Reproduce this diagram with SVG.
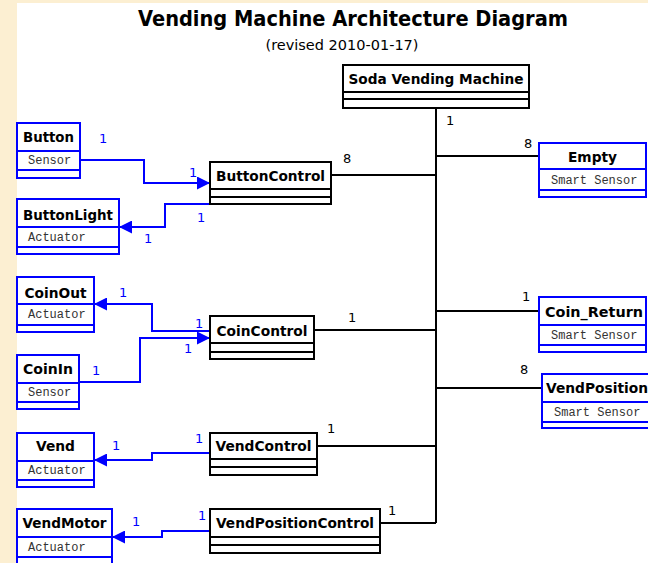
<svg xmlns="http://www.w3.org/2000/svg" width="648" height="563" viewBox="0 0 648 563">
<defs>
<style>
.bg{fill:#fcefd2}
.box{fill:#fff;stroke:#000;stroke-width:2}
.sep{stroke:#000;stroke-width:2}
.bbox{fill:#fff;stroke:#0000ff;stroke-width:2}
.bsep{stroke:#0000ff;stroke-width:2}
.name{font-family:"DejaVu Sans",sans-serif;font-weight:bold;font-size:14px;fill:#000;text-anchor:middle}
.attr{font-family:"Liberation Mono","DejaVu Sans Mono",monospace;font-size:12px;fill:#333}
.conn{fill:none;stroke:#000;stroke-width:2}
.bconn{fill:none;stroke:#0000ff;stroke-width:2}
.m{font-family:"DejaVu Sans",sans-serif;font-size:13px;fill:#000}
.bm{font-family:"DejaVu Sans",sans-serif;font-size:13px;fill:#0000ff}
</style>
<marker id="arr" markerUnits="userSpaceOnUse" markerWidth="13" markerHeight="13" viewBox="0 0 12 12" refX="12" refY="6" orient="auto">
<path d="M0,0 L12,6 L0,12 z" fill="#0000ff"/>
</marker>
</defs>
<rect class="bg" x="0" y="0" width="648" height="563"/>
<rect x="17" y="3" width="631" height="560" fill="#fff"/>
<text x="353" y="26" font-family="DejaVu Sans,sans-serif" font-weight="bold" font-size="21" text-anchor="middle" textLength="430" lengthAdjust="spacingAndGlyphs">Vending Machine Architecture Diagram</text>
<text x="342" y="50" font-family="DejaVu Sans,sans-serif" font-size="14" text-anchor="middle" textLength="153" lengthAdjust="spacingAndGlyphs">(revised 2010-01-17)</text>

<g id="connectors">
<path class="conn" d="M436 108 V523"/>
<path class="conn" d="M436 156 H539"/>
<path class="conn" d="M331 175 H436"/>
<path class="conn" d="M436 311 H539"/>
<path class="conn" d="M314 330 H436"/>
<path class="conn" d="M436 388 H542"/>
<path class="conn" d="M317 446 H436"/>
<path class="conn" d="M380 523 H436"/>
<path class="bconn" d="M80 160 H144 V183 H210" marker-end="url(#arr)"/>
<path class="bconn" d="M210 204 H165 V227 H119" marker-end="url(#arr)"/>
<path class="bconn" d="M210 331 H152 V304 H94" marker-end="url(#arr)"/>
<path class="bconn" d="M79 382 H140 V338 H210" marker-end="url(#arr)"/>
<path class="bconn" d="M210 453 H152 V460 H94" marker-end="url(#arr)"/>
<path class="bconn" d="M210 531 H162 V537 H112" marker-end="url(#arr)"/>
<text class="m" x="446" y="125">1</text>
<text class="m" x="524" y="148">8</text>
<text class="m" x="343" y="163">8</text>
<text class="m" x="522" y="301">1</text>
<text class="m" x="348" y="322">1</text>
<text class="m" x="520" y="374">8</text>
<text class="m" x="327" y="433">1</text>
<text class="m" x="388" y="515">1</text>
<text class="bm" x="99" y="143">1</text>
<text class="bm" x="189" y="177">1</text>
<text class="bm" x="197" y="222">1</text>
<text class="bm" x="144" y="243">1</text>
<text class="bm" x="119" y="297">1</text>
<text class="bm" x="195" y="328">1</text>
<text class="bm" x="184" y="353">1</text>
<text class="bm" x="92" y="375">1</text>
<text class="bm" x="112" y="450">1</text>
<text class="bm" x="195" y="443">1</text>
<text class="bm" x="132" y="526">1</text>
<text class="bm" x="198" y="520">1</text>
</g>

<g id="soda-vending-machine">
<rect class="box" x="343" y="65" width="186" height="43"/>
<path class="sep" d="M343 92 H529 M343 99 H529"/>
<text class="name" x="436" y="84" textLength="175" lengthAdjust="spacingAndGlyphs">Soda Vending Machine</text>
</g>
<g id="button-control">
<rect class="box" x="210" y="162" width="121" height="42"/>
<path class="sep" d="M210 189 H331 M210 197 H331"/>
<text class="name" x="270.5" y="181" textLength="109" lengthAdjust="spacingAndGlyphs">ButtonControl</text>
</g>
<g id="coin-control">
<rect class="box" x="210" y="316" width="104" height="43"/>
<path class="sep" d="M210 343 H314 M210 352 H314"/>
<text class="name" x="262" y="336" textLength="91" lengthAdjust="spacingAndGlyphs">CoinControl</text>
</g>
<g id="vend-control">
<rect class="box" x="210" y="433" width="107" height="42"/>
<path class="sep" d="M210 459 H317 M210 467 H317"/>
<text class="name" x="263.5" y="451" textLength="96" lengthAdjust="spacingAndGlyphs">VendControl</text>
</g>
<g id="vend-position-control">
<rect class="box" x="210" y="509" width="170" height="44"/>
<path class="sep" d="M210 537 H380 M210 545 H380"/>
<text class="name" x="295" y="528" textLength="158" lengthAdjust="spacingAndGlyphs">VendPositionControl</text>
</g>

<g id="button">
<rect class="bbox" x="17" y="123" width="63" height="55"/>
<path class="bsep" d="M17 151 H80 M17 170 H80"/>
<text class="name" x="48.5" y="142" textLength="51" lengthAdjust="spacingAndGlyphs">Button</text>
<text class="attr" x="28" y="164">Sensor</text>
</g>
<g id="button-light">
<rect class="bbox" x="17" y="199" width="102" height="55"/>
<path class="bsep" d="M17 227 H119 M17 247 H119"/>
<text class="name" x="68" y="220" textLength="90" lengthAdjust="spacingAndGlyphs">ButtonLight</text>
<text class="attr" x="28" y="241">Actuator</text>
</g>
<g id="coin-out">
<rect class="bbox" x="17" y="277" width="77" height="55"/>
<path class="bsep" d="M17 304 H94 M17 325 H94"/>
<text class="name" x="55.5" y="298" textLength="62" lengthAdjust="spacingAndGlyphs">CoinOut</text>
<text class="attr" x="28" y="318">Actuator</text>
</g>
<g id="coin-in">
<rect class="bbox" x="17" y="355" width="62" height="54"/>
<path class="bsep" d="M17 383 H79 M17 402 H79"/>
<text class="name" x="48" y="374" textLength="50" lengthAdjust="spacingAndGlyphs">CoinIn</text>
<text class="attr" x="28" y="396">Sensor</text>
</g>
<g id="vend">
<rect class="bbox" x="17" y="433" width="77" height="54"/>
<path class="bsep" d="M17 461 H94 M17 480 H94"/>
<text class="name" x="55.5" y="451" textLength="39" lengthAdjust="spacingAndGlyphs">Vend</text>
<text class="attr" x="28" y="474">Actuator</text>
</g>
<g id="vend-motor">
<rect class="bbox" x="17" y="509" width="95" height="57"/>
<path class="bsep" d="M17 537 H112 M17 557 H112"/>
<text class="name" x="64.5" y="528" textLength="84" lengthAdjust="spacingAndGlyphs">VendMotor</text>
<text class="attr" x="28" y="551">Actuator</text>
</g>
<g id="empty">
<rect class="bbox" x="539" y="143" width="107" height="54"/>
<path class="bsep" d="M539 169 H646 M539 190 H646"/>
<text class="name" x="592.5" y="162" textLength="49" lengthAdjust="spacingAndGlyphs">Empty</text>
<text class="attr" x="551" y="184">Smart Sensor</text>
</g>
<g id="coin-return">
<rect class="bbox" x="539" y="297" width="107" height="55"/>
<path class="bsep" d="M539 325 H646 M539 345 H646"/>
<text class="name" x="594" y="317" textLength="98" lengthAdjust="spacingAndGlyphs">Coin_Return</text>
<text class="attr" x="551" y="339">Smart Sensor</text>
</g>
<g id="vend-position">
<rect class="bbox" x="542" y="374" width="110" height="54"/>
<path class="bsep" d="M542 402 H652 M542 422 H652"/>
<text class="name" x="597" y="393" textLength="102" lengthAdjust="spacingAndGlyphs">VendPosition</text>
<text class="attr" x="554" y="416">Smart Sensor</text>
</g>
</svg>
